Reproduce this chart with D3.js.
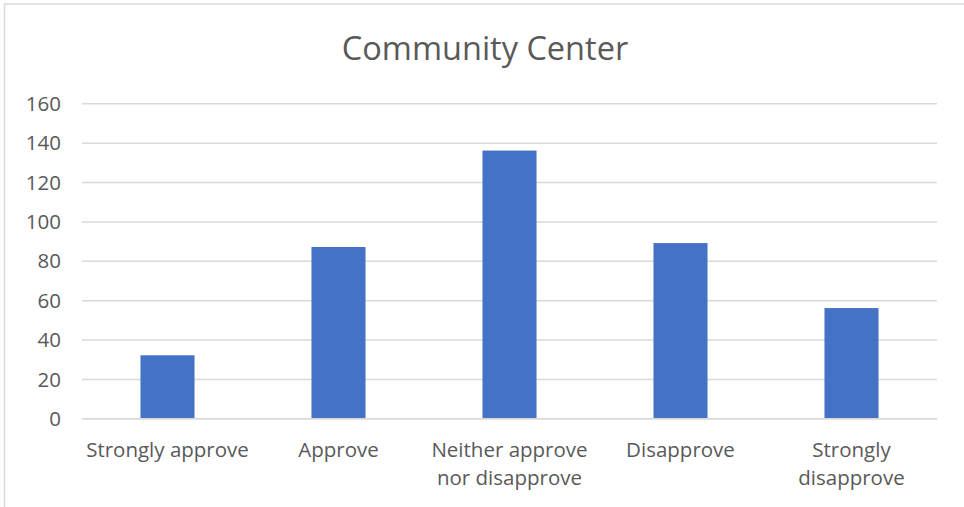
<!DOCTYPE html>
<html>
<head>
<meta charset="utf-8">
<script src="https://cdn.jsdelivr.net/npm/d3@7"></script>
<style>
  html, body { margin: 0; padding: 0; background: #ffffff; }
  svg { display: block; }
  text { font-family: "Open Sans", sans-serif; fill: #595959; }
</style>
</head>
<body>
<svg id="chart" width="964" height="507"></svg>
<script>
const title = "Community Center";
const categories = [
  ["Strongly approve"],
  ["Approve"],
  ["Neither approve", "nor disapprove"],
  ["Disapprove"],
  ["Strongly", "disapprove"]
];
const values = [32, 87, 136, 89, 56];
const yTicks = [0, 20, 40, 60, 80, 100, 120, 140, 160];

const svg = d3.select("#chart");
const W = 964, H = 507;

svg.append("rect").attr("x", 0).attr("y", 0).attr("width", W).attr("height", H).attr("fill", "#fff");
// chart area border (top/left visible)
svg.append("rect").attr("x", 4.5).attr("y", 4).attr("width", W + 10).attr("height", H + 10)
  .attr("fill", "none").attr("stroke", "#d9d9d9").attr("stroke-width", 1.5);

const plot = { left: 82, right: 937, top: 103.3, bottom: 418.3 };

const x = d3.scaleBand()
  .domain(d3.range(categories.length))
  .range([plot.left, plot.right])
  .paddingInner(0.684)
  .paddingOuter(0.342);

const y = d3.scaleLinear().domain([0, 160]).range([plot.bottom, plot.top]);

// gridlines
const grid = d3.axisLeft(y).tickValues(yTicks).tickSize(-(plot.right - plot.left)).tickFormat("");
const gg = svg.append("g").attr("transform", `translate(${plot.left},0)`).call(grid);
gg.select(".domain").remove();
gg.selectAll("line").attr("stroke", "#d9d9d9").attr("stroke-width", 1.5);

// y tick labels
const ya = d3.axisLeft(y).tickValues(yTicks).tickSize(0).tickPadding(0).tickFormat(d3.format("d"));
const yg = svg.append("g").attr("transform", `translate(61,0)`).call(ya);
yg.select(".domain").remove();
yg.selectAll("text").attr("font-size", "20.5px").attr("fill", "#595959")
  .attr("font-family", "'Open Sans', sans-serif").attr("dy", "0.35em");

// bars
svg.append("g").selectAll("rect").data(values).join("rect")
  .attr("x", (d, i) => x(i))
  .attr("y", d => y(d))
  .attr("width", x.bandwidth())
  .attr("height", d => y(0) - y(d))
  .attr("fill", "#4472c4");

// category labels
const xa = d3.axisBottom(x).tickSize(0).tickFormat("");
const xg = svg.append("g").attr("transform", `translate(0,${plot.bottom})`).call(xa);
xg.select(".domain").attr("stroke", "#d9d9d9").attr("stroke-width", 1.5);
const labels = svg.append("g").selectAll("text").data(categories).join("text")
  .attr("x", (d, i) => x(i) + x.bandwidth() / 2)
  .attr("y", 457)
  .attr("text-anchor", "middle")
  .attr("font-size", "20.5px");
labels.selectAll("tspan").data(d => d).join("tspan")
  .attr("x", function () { return d3.select(this.parentNode).attr("x"); })
  .attr("dy", (d, i) => i === 0 ? 0 : 28)
  .text(d => d);

// title
svg.append("text").attr("x", 485).attr("y", 60).attr("text-anchor", "middle")
  .attr("font-size", "32.5px").text(title);
</script>
</body>
</html>
